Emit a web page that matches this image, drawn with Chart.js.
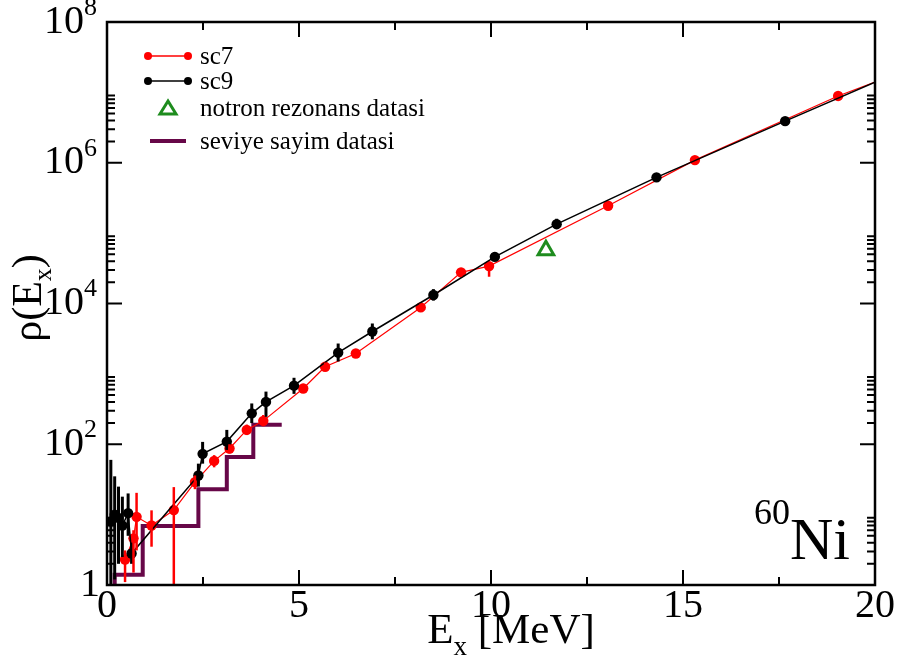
<!DOCTYPE html>
<html>
<head>
<meta charset="utf-8">
<script src="https://cdn.jsdelivr.net/npm/chart.js@4.4.1/dist/chart.umd.min.js"></script>
<style>
  html, body { margin: 0; padding: 0; background: #fff; }
  #wrap { width: 898px; height: 670px; }
</style>
</head>
<body>
<div id="wrap"><canvas id="c" width="898" height="670"></canvas></div>
<script>
// sc7 (red)
const sc7X  = [0.47, 0.69, 0.77, 1.16, 1.74, 2.29, 2.79, 3.19, 3.64, 4.07, 5.11, 5.68, 6.48, 8.17, 9.22, 9.95, 13.05, 15.31, 19.04, 20];
const sc7Y  = [2.3, 4.6, 9.3, 7.0, 11.6, 29, 58, 87, 160, 215, 620, 1260, 1950, 8800, 27700, 34000, 245000, 1.09e6, 8.9e6, 1.4e7];
const sc7Lo = [1.1, 1.5, 3.1, 3.5, 1.0, 23, 47, 74, 135, 180, 540, 1100, null, 7800, 24000, 24000, null, null, null, null];
const sc7Hi = [3.1, 6.0, 20.4, 11.5, 24.6, 36, 70, 100, 190, 260, 720, 1450, null, 10000, 32000, 39000, null, null, null, null];

// sc9 (black)
const sc9X  = [0.1, 0.2, 0.3, 0.4, 0.55, 0.64, 2.38, 2.49, 3.12, 3.77, 4.14, 4.87, 6.02, 6.91, 8.50, 10.1, 11.71, 14.31, 17.66, 20];
const sc9Y  = [8, 10, 9, 7, 10.5, 2.8, 36, 73, 109, 275, 400, 680, 2000, 4000, 13200, 46000, 134000, 620000, 3.9e6, 1.4e7];
const sc9Lo = [1.0, 1.2, 2.0, 2.5, 5, 2.0, 25, 53, 83, 200, 245, 520, 1500, 3100, 11000, 40000, 115000, null, null, null];
const sc9Hi = [60, 35, 25, 18, 20, 4.0, 53, 108, 160, 380, 560, 880, 2700, 5200, 16000, 54000, 160000, null, null, null];

// notron rezonans datasi
const nrX = [11.43];
const nrY = [57000];

// seviye sayim datasi (step edges and counts)
const levX = [0.2, 0.2, 0.93, 2.38, 3.12, 3.81, 4.55];
const levY = [1, 1.4, 6.9, 23, 66, 190, 190];

// axis ticks
const xMajor = [0, 5, 10, 15, 20];
const xMinor = [2.5, 7.5, 12.5, 17.5];
const yMajorExp = [0, 2, 4, 6, 8];

const serif = '"Liberation Serif", "Times New Roman", serif';
const RED = '#ff0000', MAROON = '#670748', GREEN = '#1e8c1e';

const pts = (xs, ys) => xs.map((v, i) => ({ x: v, y: ys[i] }));
const edgeless = ctx => (ctx.raw && ctx.raw.x >= 20 ? 0 : 5.2);

const errorBars = {
  id: 'errorBars',
  afterDatasetsDraw(chart) {
    const { ctx, chartArea: a, scales: { x, y } } = chart;
    ctx.save();
    ctx.beginPath();
    ctx.rect(a.left, a.top, a.right - a.left, a.bottom - a.top);
    ctx.clip();
    chart.data.datasets.forEach(ds => {
      if (!ds.errLo) return;
      ctx.strokeStyle = ds.borderColor;
      ctx.lineWidth = ds.errWidth;
      ds.data.forEach((p, i) => {
        if (ds.errLo[i] == null) return;
        const px = x.getPixelForValue(p.x);
        ctx.beginPath();
        ctx.moveTo(px, y.getPixelForValue(ds.errLo[i]));
        ctx.lineTo(px, y.getPixelForValue(ds.errHi[i]));
        ctx.stroke();
      });
    });
    ctx.restore();
  }
};

function supText(ctx, base, sup, x, y, size, supSize, rise, align) {
  ctx.font = size + 'px ' + serif;
  const wb = ctx.measureText(base).width;
  ctx.font = supSize + 'px ' + serif;
  const ws = sup ? ctx.measureText(sup).width : 0;
  let x0 = x;
  if (align === 'right') x0 = x - wb - ws;
  if (align === 'center') x0 = x - (wb + ws) / 2;
  ctx.textAlign = 'left';
  ctx.textBaseline = 'middle';
  ctx.font = size + 'px ' + serif;
  ctx.fillText(base, x0, y);
  if (sup) {
    ctx.font = supSize + 'px ' + serif;
    ctx.fillText(sup, x0 + wb, y - rise);
  }
}

const frame = {
  id: 'frame',
  afterDraw(chart) {
    const { ctx, chartArea: a, scales: { x, y } } = chart;
    ctx.save();
    ctx.strokeStyle = '#000';
    ctx.fillStyle = '#000';

    // ticks
    ctx.lineWidth = 2;
    const tickX = (v, len) => {
      const px = x.getPixelForValue(v);
      ctx.beginPath();
      ctx.moveTo(px, a.bottom); ctx.lineTo(px, a.bottom - len);
      ctx.moveTo(px, a.top); ctx.lineTo(px, a.top + len);
      ctx.stroke();
    };
    const tickY = (v, len) => {
      const py = y.getPixelForValue(v);
      ctx.beginPath();
      ctx.moveTo(a.left, py); ctx.lineTo(a.left + len, py);
      ctx.moveTo(a.right, py); ctx.lineTo(a.right - len, py);
      ctx.stroke();
    };
    xMajor.forEach(v => tickX(v, 15));
    xMinor.forEach(v => tickX(v, 8));
    yMajorExp.forEach(e => {
      tickY(Math.pow(10, e), 15);
      if (e < 8) for (let m = 2; m <= 9; m++) tickY(m * Math.pow(10, e), 8);
    });

    // frame
    ctx.lineWidth = 2.5;
    ctx.strokeRect(a.left, a.top, a.right - a.left, a.bottom - a.top);

    // x tick labels
    ctx.font = '40px ' + serif;
    ctx.textAlign = 'center';
    ctx.textBaseline = 'middle';
    xMajor.forEach(v => ctx.fillText(String(v), x.getPixelForValue(v), a.bottom + 21));

    // y tick labels
    yMajorExp.forEach(e => {
      const py = y.getPixelForValue(Math.pow(10, e));
      if (e === 0) supText(ctx, '1', '', 100, py, 40, 26, 0, 'right');
      else supText(ctx, '10', String(e), 97, py, 40, 26, 14, 'right');
    });

    // x title
    ctx.font = '43px ' + serif;
    const wE = ctx.measureText('E').width;
    const wR = ctx.measureText(' [MeV]').width;
    ctx.font = '27px ' + serif;
    const wx = ctx.measureText('x').width;
    const cx = (a.left + a.right) / 2 + 20;
    let x0 = cx - (wE + wx + wR) / 2;
    const ty = 632;
    ctx.textAlign = 'left';
    ctx.font = '43px ' + serif;
    ctx.fillText('E', x0, ty);
    ctx.font = '27px ' + serif;
    ctx.fillText('x', x0 + wE, ty + 16);
    ctx.font = '43px ' + serif;
    ctx.fillText(' [MeV]', x0 + wE + wx, ty);

    // y title
    ctx.save();
    ctx.translate(30, 298);
    ctx.rotate(-Math.PI / 2);
    ctx.font = '42px ' + serif;
    const w1 = ctx.measureText('\u03c1(E').width;
    const w3 = ctx.measureText(')').width;
    ctx.font = '26px ' + serif;
    const w2 = ctx.measureText('x').width;
    let y0 = -(w1 + w2 + w3) / 2;
    ctx.font = '42px ' + serif;
    ctx.fillText('\u03c1(E', y0, 0);
    ctx.font = '26px ' + serif;
    ctx.fillText('x', y0 + w1, 14);
    ctx.font = '42px ' + serif;
    ctx.fillText(')', y0 + w1 + w2, 0);
    ctx.restore();

    // nucleus label
    ctx.textAlign = 'left';
    ctx.textBaseline = 'alphabetic';
    ctx.font = '36px ' + serif;
    ctx.fillText('60', 754, 524);
    ctx.font = '60px ' + serif;
    ctx.fillText('Ni', 790, 559);

    // legend
    const lx = 148, tx = 200;
    const rows = [56, 81, 108, 141];
    ctx.lineWidth = 1.5;
    [[RED, rows[0]], ['#000', rows[1]]].forEach(([c, ry]) => {
      ctx.strokeStyle = c; ctx.fillStyle = c;
      ctx.beginPath(); ctx.moveTo(lx, ry); ctx.lineTo(lx + 40, ry); ctx.stroke();
      [lx, lx + 40].forEach(px => { ctx.beginPath(); ctx.arc(px, ry, 4, 0, Math.PI * 2); ctx.fill(); });
    });
    ctx.strokeStyle = GREEN; ctx.lineWidth = 3;
    ctx.beginPath();
    ctx.moveTo(168, rows[2] - 7); ctx.lineTo(176, rows[2] + 6); ctx.lineTo(160, rows[2] + 6); ctx.closePath();
    ctx.stroke();
    ctx.strokeStyle = MAROON; ctx.lineWidth = 4;
    ctx.beginPath(); ctx.moveTo(150, rows[3]); ctx.lineTo(186, rows[3]); ctx.stroke();

    ctx.fillStyle = '#000';
    ctx.font = '25px ' + serif;
    ctx.textBaseline = 'middle';
    const names = ['sc7', 'sc9', 'notron rezonans datasi', 'seviye sayim datasi'];
    names.forEach((n, i) => ctx.fillText(n, tx, rows[i] + 1));
    ctx.restore();
  }
};

new Chart(document.getElementById('c'), {
  type: 'scatter',
  data: {
    datasets: [
      {
        label: 'notron rezonans datasi',
        data: pts(nrX, nrY),
        pointStyle: 'triangle',
        pointRadius: 9,
        backgroundColor: 'rgba(0,0,0,0)',
        borderColor: GREEN,
        pointBorderWidth: 3,
        showLine: false,
        order: 0
      },
      {
        label: 'sc9',
        data: pts(sc9X, sc9Y),
        errLo: sc9Lo, errHi: sc9Hi, errWidth: 3,
        borderColor: '#000',
        backgroundColor: '#000',
        borderWidth: 1.5,
        pointRadius: edgeless,
        pointBorderWidth: 0,
        showLine: true,
        order: 1
      },
      {
        label: 'sc7',
        data: pts(sc7X, sc7Y),
        errLo: sc7Lo, errHi: sc7Hi, errWidth: 2.5,
        borderColor: RED,
        backgroundColor: RED,
        borderWidth: 1.2,
        pointRadius: edgeless,
        pointBorderWidth: 0,
        showLine: true,
        order: 2
      },
      {
        label: 'seviye sayim datasi',
        data: pts(levX, levY),
        borderColor: MAROON,
        borderWidth: 4,
        pointRadius: 0,
        stepped: 'before',
        showLine: true,
        order: 3
      }
    ]
  },
  options: {
    responsive: false,
    animation: false,
    devicePixelRatio: 1,
    layout: { padding: { left: 107, top: 22, right: 23, bottom: 85 } },
    plugins: { legend: { display: false }, tooltip: { enabled: false } },
    scales: {
      x: { type: 'linear', min: 0, max: 20, display: false },
      y: { type: 'logarithmic', min: 1, max: 1e8, display: false }
    }
  },
  plugins: [errorBars, frame]
});
</script>
</body>
</html>
